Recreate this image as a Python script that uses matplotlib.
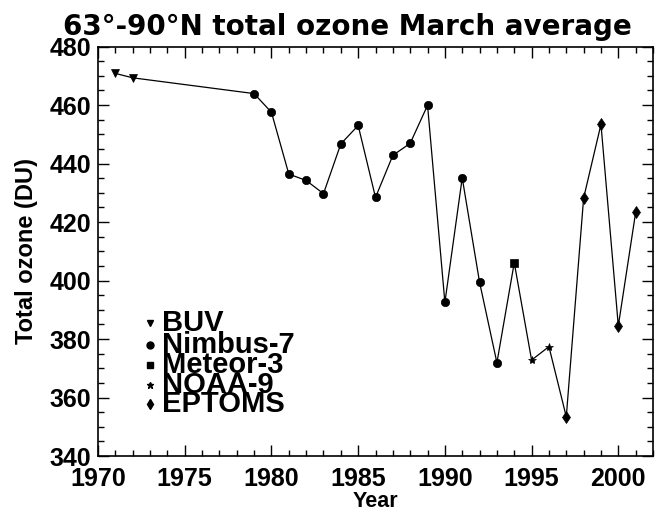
import numpy as np
import matplotlib
matplotlib.use('Agg')
import matplotlib.pyplot as plt
from matplotlib.ticker import MultipleLocator

plt.rcParams['font.family'] = ['Liberation Sans', 'DejaVu Sans']
plt.rcParams['font.weight'] = 'bold'

# instrument records (year, March average total ozone in DU)
buv_year = [1971, 1972]
buv_oz = [470.8, 469.3]
nimbus_year = [1979, 1980, 1981, 1982, 1983, 1984, 1985, 1986, 1987, 1988,
               1989, 1990, 1991, 1992, 1993]
nimbus_oz = [463.9, 457.5, 436.4, 434.2, 429.7, 446.7, 453.0, 428.4, 442.8,
             446.9, 459.9, 392.5, 435.1, 399.4, 371.9]
meteor_year = [1994]
meteor_oz = [406.1]
noaa_year = [1995, 1996]
noaa_oz = [372.8, 377.4]
eptoms_year = [1997, 1998, 1999, 2000, 2001]
eptoms_oz = [353.4, 428.2, 453.4, 384.5, 423.3]

labels = ['BUV', 'Nimbus-7', 'Meteor-3', 'NOAA-9', 'EPTOMS']
markers = ['v', 'o', 's', '*', 'd']
msizes = [6, 6, 6, 6, 6]

fig = plt.figure(figsize=(6.61, 5.14), dpi=100)
ax = fig.add_axes([0.1483, 0.1128, 0.8396, 0.7967])

years = buv_year + nimbus_year + meteor_year + noaa_year + eptoms_year
oz = buv_oz + nimbus_oz + meteor_oz + noaa_oz + eptoms_oz
ax.plot(years, oz, color='black', linewidth=0.9)

groups = [(buv_year, buv_oz), (nimbus_year, nimbus_oz), (meteor_year, meteor_oz),
          (noaa_year, noaa_oz), (eptoms_year, eptoms_oz)]
for (gx, gy), m, ms in zip(groups, markers, msizes):
    ax.plot(gx, gy, linestyle='none', marker=m, markersize=ms,
            color='black', markeredgewidth=0.5)

# hand-placed legend, IDL style (rows overlap like the original)
rows = [0.326, 0.272, 0.223, 0.174, 0.127]
for lab, m, ms, yy in zip(labels, markers, msizes, rows):
    ax.plot([0.094], [yy], transform=ax.transAxes, marker=m, markersize=ms - 1,
            color='black', linestyle='none', clip_on=False)
    ax.text(0.116, yy, lab, transform=ax.transAxes, fontsize=21,
            fontweight='bold', va='center', ha='left')

ax.set_xlim(1970, 2002)
ax.set_ylim(340, 480)
ax.xaxis.set_major_locator(MultipleLocator(5))
ax.xaxis.set_minor_locator(MultipleLocator(1))
ax.yaxis.set_major_locator(MultipleLocator(20))
ax.yaxis.set_minor_locator(MultipleLocator(5))
ax.tick_params(which='both', direction='in', top=True, right=True,
               labelsize=18, width=1.0)
ax.tick_params(which='major', length=8)
ax.tick_params(which='minor', length=4.5)
ax.tick_params(axis='x', pad=8)
ax.tick_params(axis='y', pad=5)
for lbl in ax.get_xticklabels() + ax.get_yticklabels():
    lbl.set_fontweight('bold')
for sp in ax.spines.values():
    sp.set_linewidth(1.2)

ax.set_xlabel('Year', fontsize=15.5, fontweight='bold', labelpad=0)
ax.set_ylabel('Total ozone (DU)', fontsize=17, fontweight='bold', labelpad=8)
fig.text(0.526, 1 - 35 / 514, '63\u00b0-90\u00b0N total ozone March average',
         fontsize=20, fontweight='bold', ha='center', va='baseline',
         family='DejaVu Sans')

fig.savefig('out.png', dpi=100)
